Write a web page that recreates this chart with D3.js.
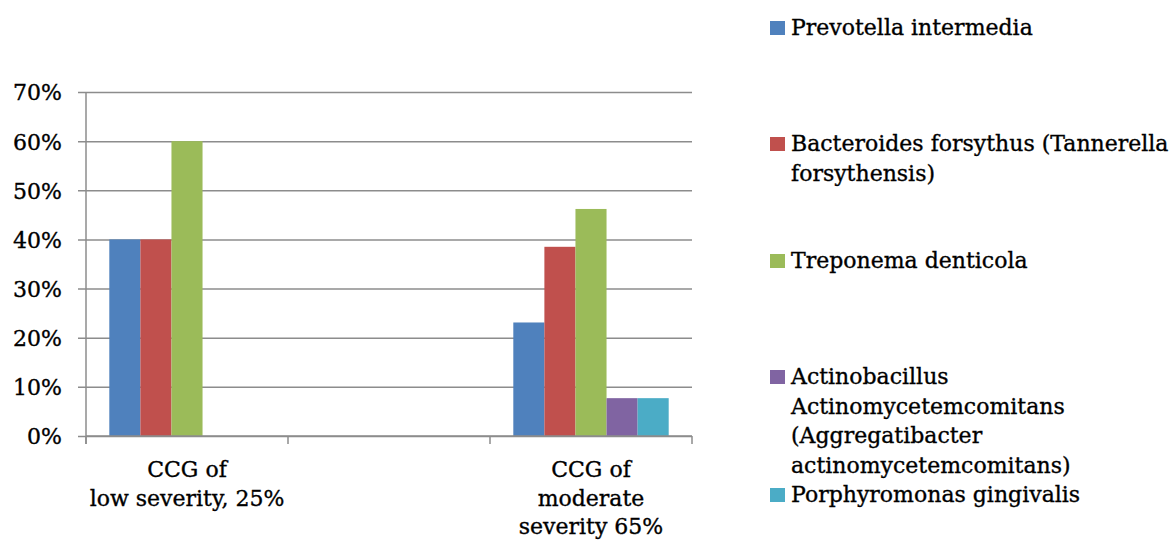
<!DOCTYPE html>
<html>
<head>
<meta charset="utf-8">
<script src="https://cdn.jsdelivr.net/npm/d3@7/dist/d3.min.js"></script>
<style>
  html, body { margin: 0; padding: 0; background: #fff; }
  svg { display: block; }
  text { font-family: "DejaVu Serif", "Liberation Serif", serif; fill: #000; stroke: #000; stroke-width: 0.35px; }
</style>
</head>
<body>
<svg id="chart" width="1175" height="540"></svg>
<script>
// ---- data ----
const categories = ["CCG of\nlow severity, 25%", "", "CCG of\nmoderate\nseverity 65%"];
const seriesNames = [
  "Prevotella intermedia",
  "Bacteroides forsythus (Tannerella\nforsythensis)",
  "Treponema denticola",
  "Actinobacillus\nActinomycetemcomitans\n(Aggregatibacter\nactinomycetemcomitans)",
  "Porphyromonas gingivalis"
];
const seriesColors = ["#4F81BD", "#C0504D", "#9BBB59", "#8064A2", "#4BACC6"];
// values per series, one entry per category (null = no bar)
const prevotella   = [0.40, null, 0.231];
const bacteroides  = [0.40, null, 0.385];
const treponema    = [0.60, null, 0.462];
const actinobac    = [0.0,  null, 0.077];
const porphyromonas= [0.0,  null, 0.077];
const seriesValues = [prevotella, bacteroides, treponema, actinobac, porphyromonas];
const yTicks = [0, 0.1, 0.2, 0.3, 0.4, 0.5, 0.6, 0.7];

// ---- layout ----
const svg = d3.select("#chart");
const plot = { left: 86, right: 692, top: 92, bottom: 436 };
const fontSize = 22;
const lineH = 28.5;

const x = d3.scaleBand().domain(d3.range(categories.length)).range([plot.left, plot.right]).padding(0);
const xs = d3.scaleBand().domain(d3.range(seriesNames.length)).range([0, x.bandwidth()])
  .paddingInner(0).paddingOuter(0.75);
const y = d3.scaleLinear().domain([0, 0.7]).range([plot.bottom, plot.top]);

// gridlines + y axis ticks
const yAxis = d3.axisLeft(y).tickValues(yTicks).tickSize(-(plot.right - plot.left)).tickFormat(d3.format(".0%")).tickPadding(0);
const gy = svg.append("g").attr("transform", `translate(${plot.left},0)`).call(yAxis);
gy.select(".domain").remove();
gy.selectAll(".tick line").attr("stroke", "#8c8c8c").attr("stroke-width", 1.5).attr("x1", -8);
gy.selectAll(".tick text").attr("x", -24).attr("dy", "0.36em")
  .style("font-size", fontSize + "px").style("font-family", '"DejaVu Serif", serif').attr("fill", "#000");

// bars
categories.forEach((c, ci) => {
  seriesValues.forEach((vals, si) => {
    const v = vals[ci];
    if (v == null || v <= 0) return;
    svg.append("rect")
      .attr("x", x(ci) + xs(si))
      .attr("y", y(v))
      .attr("width", xs.bandwidth())
      .attr("height", y(0) - y(v))
      .attr("fill", seriesColors[si]);
  });
});

// x axis
const xAxisG = svg.append("g");
xAxisG.append("line").attr("x1", plot.left).attr("x2", plot.right)
  .attr("y1", y(0)).attr("y2", y(0)).attr("stroke", "#8c8c8c").attr("stroke-width", 1.5);
xAxisG.append("line").attr("x1", plot.left).attr("x2", plot.left)
  .attr("y1", plot.top).attr("y2", y(0) + 8).attr("stroke", "#8c8c8c").attr("stroke-width", 1.5);
const tickXs = d3.range(categories.length + 1).map(i => i < categories.length ? x(i) : x(categories.length - 1) + x.bandwidth());
tickXs.forEach(tx => {
  xAxisG.append("line").attr("x1", tx).attr("x2", tx).attr("y1", y(0)).attr("y2", y(0) + 8)
    .attr("stroke", "#8c8c8c").attr("stroke-width", 1.5);
});
categories.forEach((c, ci) => {
  if (!c) return;
  const t = xAxisG.append("text").attr("text-anchor", "middle")
    .attr("x", x(ci) + x.bandwidth() / 2).attr("y", 477)
    .style("font-size", fontSize + "px");
  c.split("\n").forEach((line, li) => {
    t.append("tspan").attr("x", x(ci) + x.bandwidth() / 2).attr("y", 477 + li * lineH).text(line);
  });
});

// legend
const legendBaselines = [35, 151, 268, 384, 502];
const lg = svg.append("g");
seriesNames.forEach((name, si) => {
  const by = legendBaselines[si];
  lg.append("rect").attr("x", 770).attr("y", by - 14).attr("width", 15).attr("height", 14)
    .attr("fill", seriesColors[si]);
  const t = lg.append("text").style("font-size", fontSize + "px");
  name.split("\n").forEach((line, li) => {
    t.append("tspan").attr("x", 791).attr("y", by + li * 29.5).text(line);
  });
});
</script>
</body>
</html>
